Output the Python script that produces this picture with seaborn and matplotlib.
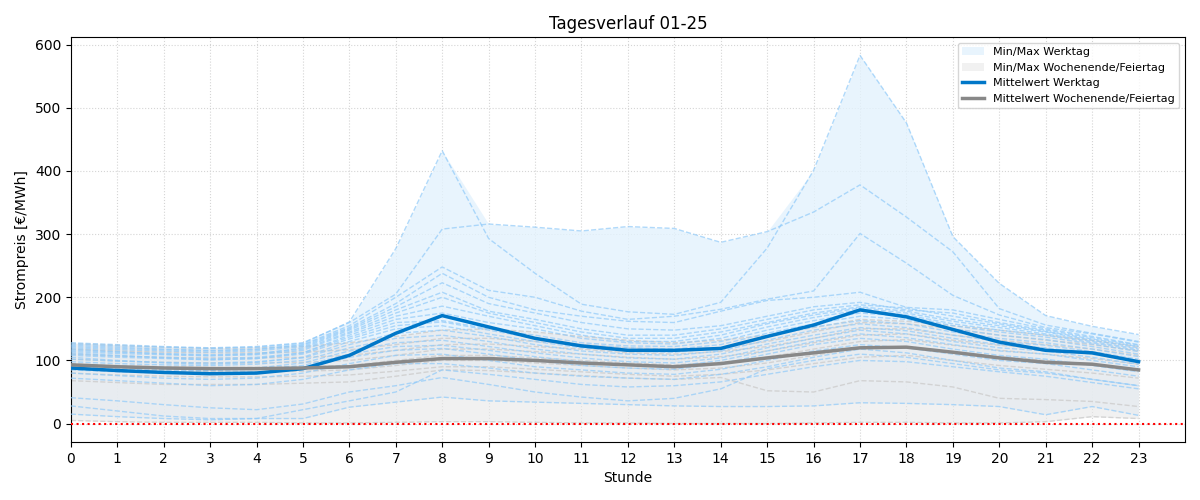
import numpy as np
import pandas as pd
import matplotlib
matplotlib.use("Agg")
import matplotlib.pyplot as plt
import seaborn as sns

hours = list(range(24))
x_ticks = list(range(24))

# --- Werktage (Jan 2025) ---
jan02 = [126,123,121,119,121,127,161,277,432,293,238,189,177,173,192,278,401,583,476,296,222,171,154,141]
jan03 = [128,125,122,120,122,128,160,205,308,316,311,305,312,309,287,304,335,378,327,272,182,156,143,130]
jan06 = [124,121,118,116,118,125,155,200,248,211,200,178,165,170,181,197,210,301,254,203,172,152,142,129]
jan07 = [122,119,117,115,117,124,152,190,238,200,180,170,162,160,178,195,200,208,184,180,165,150,138,125]
jan08 = [120,117,115,113,115,122,150,185,223,190,175,160,150,148,155,170,185,192,180,175,160,148,136,124]
jan09 = [118,114,110,108,110,120,148,180,208,178,165,150,140,140,150,165,180,188,183,170,158,146,134,122]
jan10 = [116,113,111,109,111,118,145,175,200,175,160,145,135,135,145,160,175,185,178,165,155,145,132,120]
jan13 = [114,111,109,107,109,116,143,170,186,170,155,140,130,130,140,158,172,183,175,162,152,142,130,118]
jan14 = [112,108,104,101,103,112,140,165,175,160,150,135,128,126,135,153,168,180,172,158,148,140,128,116]
jan15 = [110,107,105,103,105,112,137,160,163,150,140,128,123,122,130,148,163,175,170,155,145,137,126,114]
jan16 = [108,105,103,101,103,110,134,155,161,148,135,125,120,118,125,143,158,170,165,150,140,133,122,110]
jan17 = [105,100,96,94,97,105,130,150,155,142,130,120,115,113,120,138,153,163,158,145,135,128,118,106]
jan20 = [102,99,97,96,98,104,125,143,148,138,125,115,110,108,115,132,148,158,152,140,130,124,114,102]
jan21 = [98,95,93,92,94,100,120,135,140,130,118,110,104,102,110,126,140,152,147,135,125,120,110,98]
jan22 = [94,90,86,84,88,96,115,128,132,122,112,104,98,96,104,120,135,148,142,130,120,115,105,94]
jan23 = [90,87,85,84,86,92,110,122,124,116,106,98,93,91,100,115,130,142,136,125,115,110,100,90]
jan24 = [85,82,80,79,81,88,105,116,119,110,100,92,88,86,95,110,125,135,130,118,108,102,92,82]
jan27 = [80,76,72,70,72,80,95,108,110,100,90,85,80,78,86,100,115,125,120,110,100,95,85,75]
jan28 = [72,68,64,60,62,70,85,95,95,88,80,75,72,70,78,90,105,118,112,100,88,82,70,60]
jan29 = [41,36,30,25,22,31,50,60,73,62,50,42,36,40,55,87,100,110,105,95,85,80,70,60]
jan30 = [28,20,12,8,8,8,26,34,42,36,34,32,30,28,27,27,28,33,32,30,27,14,27,13]
jan31 = [15,11,8,6,8,22,36,50,85,78,70,62,58,60,66,78,90,100,98,90,82,75,65,55]

# --- Wochenende / Feiertag ---
jan01 = [127,124,121,119,120,122,128,138,148,150,145,138,132,128,132,140,152,165,162,155,148,140,132,122]
jan04 = [118,115,113,112,112,113,117,125,135,135,130,125,120,117,120,130,145,160,158,150,140,132,125,115]
jan05 = [110,107,105,104,104,105,108,116,125,126,122,118,112,110,114,122,135,150,150,140,132,125,118,108]
jan11 = [102,99,97,96,96,97,100,108,118,118,114,110,105,102,106,115,128,140,142,132,124,118,110,100]
jan12 = [95,92,90,89,89,90,92,100,108,108,104,100,96,93,97,105,118,130,133,124,116,110,103,94]
jan18 = [88,85,83,82,82,83,85,92,100,100,96,92,88,85,88,96,108,120,122,114,106,100,94,86]
jan19 = [68,65,62,62,62,64,66,75,85,84,80,76,72,70,73,52,50,68,66,58,40,38,35,27]
jan25 = [80,77,75,74,74,75,77,83,90,90,86,82,78,75,78,85,95,105,108,100,92,86,80,72]
jan26 = [5,3,2,2,2,1,1,2,3,3,2,1,1,0,0,0,1,2,2,1,1,3,11,8]

# --- Mittelwerte ---
mean_workday = [88,84,81,79,80,87,108,143,171,153,135,123,116,116,119,138,156,180,169,149,129,116,112,98]
mean_weekend = [93,90,88,87,87,88,90,97,103,103,100,96,93,90,95,104,112,120,121,113,104,97,94,85]

workdays = [jan02, jan03, jan06, jan07, jan08, jan09, jan10, jan13, jan14, jan15, jan16,
            jan17, jan20, jan21, jan22, jan23, jan24, jan27, jan28, jan29, jan30, jan31]
weekends = [jan01, jan04, jan05, jan11, jan12, jan18, jan19, jan25, jan26]

wd = np.array(workdays, dtype=float)
we = np.array(weekends, dtype=float)

c_blue = "#0077c8"
c_lblue = "#90caf9"
c_fill_blue = "#e3f2fd"
c_gray = "#888888"
c_lgray = "#d0d0d0"
c_fill_gray = "#e8e8e8"

fig, ax = plt.subplots(figsize=(12, 5), dpi=100)
fig.subplots_adjust(left=0.059, right=0.9875, top=0.926, bottom=0.116)

ax.fill_between(hours, wd.min(axis=0), wd.max(axis=0), color=c_fill_blue, alpha=0.8,
                linewidth=0, label="Min/Max Werktag", zorder=1)
ax.fill_between(hours, we.min(axis=0), we.max(axis=0), color=c_fill_gray, alpha=0.6,
                linewidth=0, label="Min/Max Wochenende/Feiertag", zorder=1)

for prof in weekends:
    sns.lineplot(x=hours, y=prof, ax=ax, color=c_lgray, linestyle="--", linewidth=1,
                 alpha=0.9, zorder=2)
for prof in workdays:
    sns.lineplot(x=hours, y=prof, ax=ax, color=c_lblue, linestyle="--", linewidth=1,
                 alpha=0.7, zorder=3)

sns.lineplot(x=hours, y=mean_workday, ax=ax, color=c_blue, linewidth=2.5,
             label="Mittelwert Werktag", zorder=5)
sns.lineplot(x=hours, y=mean_weekend, ax=ax, color=c_gray, linewidth=2.5,
             label="Mittelwert Wochenende/Feiertag", zorder=5)

ax.axhline(0, color="red", linestyle=":", linewidth=1.5, zorder=6)

ax.set_xlim(0, 24)
ax.set_xticks(x_ticks)
ax.set_xticklabels([str(h) for h in x_ticks])
ax.grid(True, linestyle=":", color="#d5d5d5", linewidth=0.8)
ax.set_axisbelow(True)
ax.set_title("Tagesverlauf 01-25", fontsize=12)
ax.set_xlabel("Stunde", fontsize=10)
ax.set_ylabel("Strompreis [€/MWh]", fontsize=10)
ax.legend(loc="upper right", fontsize=8)

fig.savefig("out.png", dpi=100)
